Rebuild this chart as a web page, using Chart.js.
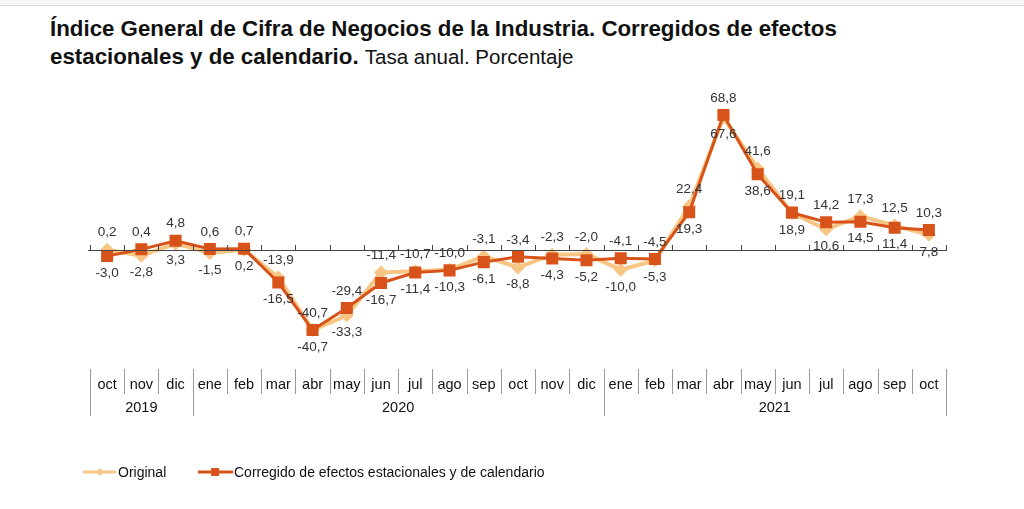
<!DOCTYPE html>
<html lang="es">
<head>
  <meta charset="UTF-8" />
  <title>Índice General de Cifra de Negocios de la Industria</title>
  <script src="https://cdn.jsdelivr.net/npm/chart.js"></script>
  <style>
    body { margin: 0; background: #fff; font-family: "Liberation Sans", Arial, sans-serif; }
    #top { position: absolute; left: 0; top: 0; width: 1024px; height: 5px; background: #f6f6f6; border-bottom: 1px solid #dcdcdc; }
    #title { position: absolute; left: 50px; top: 15px; font-size: 22.3px; line-height: 28px; color: #111; white-space: nowrap; }
    #title b { font-weight: bold; }
    #title span { font-size: 20.5px; }
    #wrap { position: absolute; left: 0; top: 0; width: 1024px; height: 509px; }
  </style>
</head>
<body>
  <div id="top"></div>
  <div id="title">
    <b>Índice General de Cifra de Negocios de la Industria. Corregidos de efectos<br>estacionales y de calendario.</b> <span>Tasa anual. Porcentaje</span>
  </div>
  <div id="wrap"><canvas id="chart" width="1024" height="509"></canvas></div>

  <script>
    // datos
    const meses = ['oct','nov','dic','ene','feb','mar','abr','may','jun','jul','ago','sep',
                   'oct','nov','dic','ene','feb','mar','abr','may','jun','jul','ago','sep','oct'];
    const anios = ['2019', '2020', '2021'];
    const mesesPorAnio = [3, 12, 10];
    const original = [0.2, -2.8, 3.3, -1.5, 0.2, -13.9, -40.7, -33.3, -11.4, -10.7, -10.0, -3.1,
                      -8.8, -2.3, -2.0, -10.0, -5.3, 22.4, 67.6, 41.6, 18.9, 10.6, 17.3, 12.5, 7.8];
    const corregido = [-3.0, 0.4, 4.8, 0.6, 0.7, -16.5, -40.7, -29.4, -16.7, -11.4, -10.3, -6.1,
                       -3.4, -4.3, -5.2, -4.1, -4.5, 19.3, 68.8, 38.6, 19.1, 14.2, 14.5, 11.4, 10.3];

    const CLARO = '#f7c684';
    const OSCURO = '#d8531a';
    const TEXTO = '#333';
    const FUENTE = '"Liberation Sans", Arial, sans-serif';

    const fmt = v => v.toFixed(1).replace('.', ',');

    // linea de cero, separadores del eje, etiquetas y leyenda
    const extras = {
      id: 'extras',
      afterDatasetsDraw(chart) {
        const ctx = chart.ctx;
        const x = chart.scales.x, y = chart.scales.y;
        const y0 = y.getPixelForValue(0);
        const n = meses.length;
        const half = (x.getPixelForValue(1) - x.getPixelForValue(0)) / 2;
        ctx.save();

        // eje en cero
        ctx.strokeStyle = '#444';
        ctx.lineWidth = 1;
        ctx.beginPath();
        ctx.moveTo(x.left - 2, Math.round(y0) + 0.5);
        ctx.lineTo(x.right + 1, Math.round(y0) + 0.5);
        for (let i = 0; i <= n; i++) {
          const px = Math.round(x.getPixelForValue(i) - half) + 0.5;
          ctx.moveTo(px, Math.round(y0) + 0.5);
          ctx.lineTo(px, Math.round(y0) - 5);
        }
        ctx.stroke();

        // etiquetas de datos
        ctx.font = '13.5px ' + FUENTE;
        ctx.fillStyle = TEXTO;
        ctx.textAlign = 'center';
        ctx.textBaseline = 'middle';
        for (let i = 0; i < n; i++) {
          const a = original[i], b = corregido[i];
          const hi = Math.max(a, b), lo = Math.min(a, b);
          const px = x.getPixelForValue(i);
          ctx.fillText(fmt(hi), px, y.getPixelForValue(hi) - 17);
          ctx.fillText(fmt(lo), px, y.getPixelForValue(lo) + 17);
        }

        // separadores de meses y años
        const top = x.top + 1;
        ctx.strokeStyle = '#999';
        ctx.beginPath();
        const finAnio = [0];
        mesesPorAnio.reduce((s, m) => { finAnio.push(s + m); return s + m; }, 0);
        for (let i = 0; i <= n; i++) {
          const px = Math.round(x.getPixelForValue(i) - half) + 0.5;
          const largo = finAnio.includes(i) ? 47 : 25;
          ctx.moveTo(px, top);
          ctx.lineTo(px, top + largo);
        }
        ctx.stroke();

        ctx.font = '14.5px ' + FUENTE;
        ctx.fillStyle = '#111';
        anios.forEach((a, k) => {
          const x1 = x.getPixelForValue(finAnio[k]) - half;
          const x2 = x.getPixelForValue(finAnio[k + 1]) - half;
          ctx.fillText(a, (x1 + x2) / 2, top + 39);
        });

        // leyenda
        const ly = 472;
        ctx.lineWidth = 3;
        ctx.strokeStyle = CLARO;
        ctx.beginPath(); ctx.moveTo(83, ly); ctx.lineTo(116, ly); ctx.stroke();
        ctx.fillStyle = CLARO;
        ctx.beginPath();
        ctx.moveTo(100, ly - 4); ctx.lineTo(104, ly); ctx.lineTo(100, ly + 4); ctx.lineTo(96, ly);
        ctx.closePath(); ctx.fill();
        ctx.strokeStyle = OSCURO;
        ctx.beginPath(); ctx.moveTo(198, ly); ctx.lineTo(233, ly); ctx.stroke();
        ctx.fillStyle = OSCURO;
        ctx.fillRect(211, ly - 4, 8, 8);
        ctx.fillStyle = '#111';
        ctx.textAlign = 'left';
        ctx.font = '14px ' + FUENTE;
        ctx.fillText('Original', 118, ly + 1);
        ctx.fillText('Corregido de efectos estacionales y de calendario', 234, ly + 1);

        ctx.restore();
      }
    };

    new Chart(document.getElementById('chart'), {
      type: 'line',
      data: {
        labels: meses,
        datasets: [
          {
            label: 'Original',
            data: original,
            borderColor: CLARO,
            backgroundColor: CLARO,
            borderWidth: 4,
            pointStyle: 'rectRot',
            pointRadius: 7,
            pointBorderWidth: 0,
            order: 1
          },
          {
            label: 'Corregido de efectos estacionales y de calendario',
            data: corregido,
            borderColor: OSCURO,
            backgroundColor: OSCURO,
            borderWidth: 3,
            pointStyle: 'rect',
            pointRadius: 8.5,
            pointBorderWidth: 0,
            order: 0
          }
        ]
      },
      options: {
        responsive: false,
        animation: false,
        layout: { padding: { left: 90, right: 78, top: 93, bottom: 91 } },
        plugins: { legend: { display: false }, tooltip: { enabled: false } },
        scales: {
          x: {
            offset: true,
            grid: { display: false, drawTicks: false },
            border: { display: false },
            ticks: {
              padding: 8,
              color: '#111',
              font: { size: 14.5, family: FUENTE },
              maxRotation: 0,
              autoSkip: false
            },
            afterFit: s => { s.height = 50; }
          },
          y: {
            display: false,
            min: -60,
            max: 80
          }
        }
      },
      plugins: [extras]
    });
  </script>
</body>
</html>
